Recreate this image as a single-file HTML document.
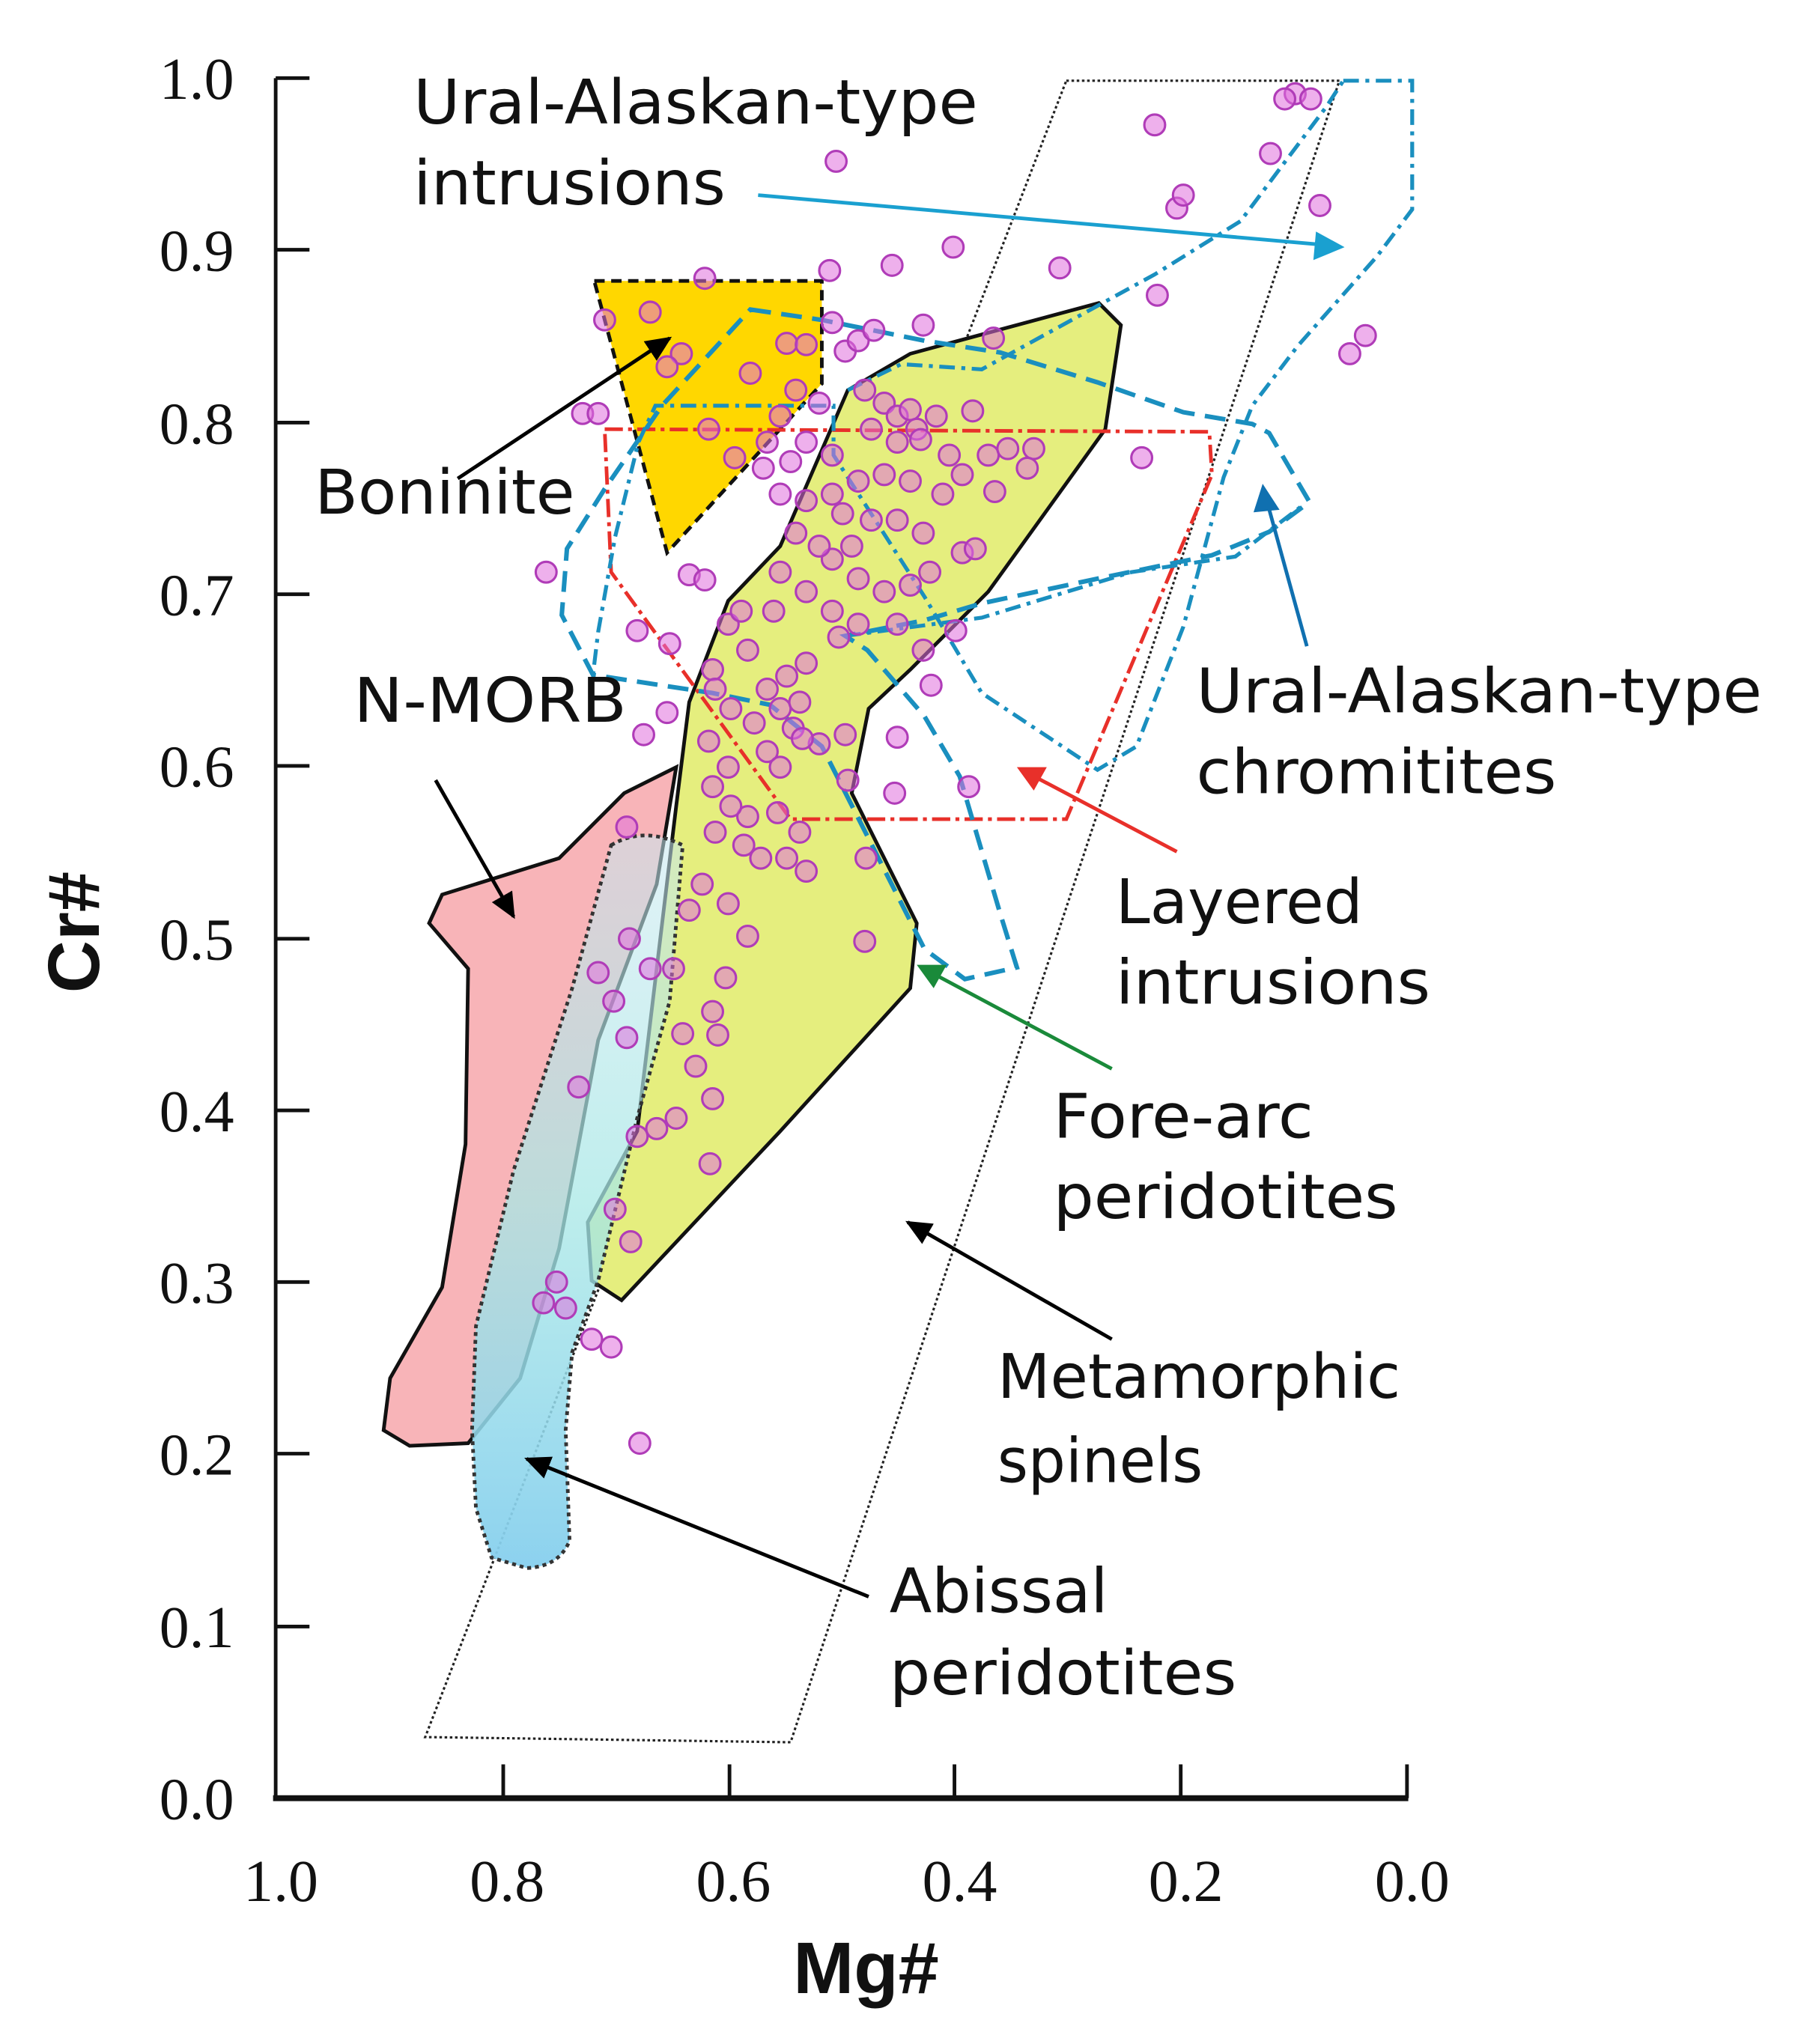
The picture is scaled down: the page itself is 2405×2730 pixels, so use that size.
<!DOCTYPE html>
<html><head><meta charset="utf-8"><style>
html,body{margin:0;padding:0;background:#fff}
svg{display:block}
.t{font-family:"DejaVu Sans","Liberation Sans",sans-serif;font-size:47px;fill:#111}
.n{font-family:"Liberation Serif",serif;font-size:46px;fill:#111}
</style></head><body>
<svg width="2405" height="2730" viewBox="0 0 1385 1572" xmlns="http://www.w3.org/2000/svg">
<defs>
<linearGradient id="ab" x1="0" y1="0" x2="0" y2="1">
<stop offset="0" stop-color="#c8e8f0" stop-opacity="0.55"/>
<stop offset="0.5" stop-color="#a8e8e6" stop-opacity="0.75"/>
<stop offset="1" stop-color="#86cfee" stop-opacity="0.95"/>
</linearGradient>
<marker id="ak" markerWidth="22" markerHeight="22" refX="18" refY="11" orient="auto" markerUnits="userSpaceOnUse" viewBox="0 0 22 22"><path d="M0,2L20,11L0,20z" fill="#000"/></marker>
</defs>
<rect width="1385" height="1572" fill="#fff"/>
<polygon points="820,62 1030,62 608,1340 327,1336" fill="none" stroke="#222" stroke-width="1.8" stroke-dasharray="2,2"/>
<path d="M520,590 L480,610 L430,660 L340,688 L330,710 L360,745 L358,880 L340,990 L300,1060 L295,1100 L315,1112 L360,1110 L400,1060 L430,960 L460,800 L505,680 Z" fill="#f8b4b8" stroke="#111" stroke-width="2.8"/>
<path d="M652,300 L700,272 L845,233 L862,250 L850,330 L760,455 L700,515 L668,545 L655,610 L705,710 L700,760 L600,870 L478,1000 L455,985 L452,940 L490,870 L520,620 L530,540 L560,462 L600,420 Z" fill="#e5ee7e" stroke="#111" stroke-width="2.8"/>
<path d="M470,650 Q495,635 525,650 L515,770 L490,860 L460,985 L440,1040 L435,1100 L438,1185 Q430,1205 405,1206 L378,1198 L366,1160 L363,1100 L366,1020 L395,900 L440,760 Z" fill="url(#ab)" stroke="#333" stroke-width="2.8" stroke-dasharray="3,3"/>
<polygon points="457,216 632,216 632,295 513,425" fill="#ffd700" stroke="#111" stroke-width="2.8" stroke-dasharray="8,5"/>
<polygon points="465,330 930,332 932,365 820,630 608,630 470,440" fill="none" stroke="#e8302a" stroke-width="2.8" stroke-dasharray="14,4,3,4"/>
<path d="M577,238 L632,246 L711,262 L769,271 L844,294 L910,317 L963,326 L976,333 L1007,386 L976,409 L932,427 L844,445 L755,464 L711,477 L650,489 L667,500 L711,551 L738,597 L769,702 L782,744 L742,753 L711,730 L667,643 L632,574 L592,542 L548,533 L456,519 L432,473 L436,422 L465,376 L509,312 Z" fill="none" stroke="#1a8fbf" stroke-width="3.5" stroke-dasharray="16,8"/>
<path d="M1033,62 L1086,62 L1086,161 L1059,197 L998,266 L963,312 L941,367 L910,482 L874,574 L844,592 L755,533 L711,459 L641,350 L641,312 L504,312 L491,340 L473,413 L460,486 L456,519" fill="none" stroke="#1a8fbf" stroke-width="3" stroke-dasharray="12,5,3,5"/>
<path d="M652,300 L693,280 L755,284 L888,211 L954,170 L1020,82 L1033,62" fill="none" stroke="#1a8fbf" stroke-width="3" stroke-dasharray="12,5,3,5"/>
<path d="M650,489 L755,475 L870,440 L950,428 L1000,390" fill="none" stroke="#1a8fbf" stroke-width="3" stroke-dasharray="12,5,3,5"/>
<g fill="#e070dc" fill-opacity="0.55" stroke="#b03cb8" stroke-width="1.8">
<circle cx="643" cy="124" r="8"/><circle cx="888" cy="96" r="8"/><circle cx="996" cy="72" r="8"/><circle cx="1008" cy="76" r="8"/><circle cx="988" cy="76" r="8"/><circle cx="977" cy="118" r="8"/><circle cx="1015" cy="158" r="8"/><circle cx="905" cy="160" r="8"/><circle cx="910" cy="150" r="8"/><circle cx="733" cy="190" r="8"/><circle cx="686" cy="204" r="8"/><circle cx="815" cy="206" r="8"/><circle cx="638" cy="208" r="8"/><circle cx="542" cy="214" r="8"/><circle cx="890" cy="227" r="8"/><circle cx="1050" cy="258" r="8"/><circle cx="1038" cy="272" r="8"/><circle cx="878" cy="352" r="8"/><circle cx="465" cy="246" r="8"/><circle cx="500" cy="240" r="8"/><circle cx="524" cy="272" r="8"/><circle cx="513" cy="282" r="8"/><circle cx="577" cy="287" r="8"/><circle cx="605" cy="264" r="8"/><circle cx="620" cy="265" r="8"/><circle cx="640" cy="248" r="8"/><circle cx="650" cy="270" r="8"/><circle cx="660" cy="262" r="8"/><circle cx="672" cy="254" r="8"/><circle cx="710" cy="250" r="8"/><circle cx="764" cy="260" r="8"/><circle cx="448" cy="318" r="8"/><circle cx="460" cy="318" r="8"/><circle cx="545" cy="330" r="8"/><circle cx="565" cy="352" r="8"/><circle cx="420" cy="440" r="8"/><circle cx="530" cy="442" r="8"/><circle cx="542" cy="446" r="8"/><circle cx="490" cy="485" r="8"/><circle cx="515" cy="495" r="8"/><circle cx="495" cy="565" r="8"/><circle cx="513" cy="548" r="8"/><circle cx="600" cy="320" r="8"/><circle cx="590" cy="340" r="8"/><circle cx="612" cy="300" r="8"/>
<circle cx="665" cy="300" r="8"/><circle cx="680" cy="310" r="8"/><circle cx="690" cy="320" r="8"/><circle cx="700" cy="315" r="8"/><circle cx="705" cy="330" r="8"/><circle cx="690" cy="340" r="8"/><circle cx="720" cy="320" r="8"/><circle cx="748" cy="316" r="8"/><circle cx="760" cy="350" r="8"/><circle cx="775" cy="345" r="8"/><circle cx="795" cy="345" r="8"/><circle cx="790" cy="360" r="8"/><circle cx="740" cy="365" r="8"/><circle cx="725" cy="380" r="8"/><circle cx="700" cy="370" r="8"/><circle cx="680" cy="365" r="8"/><circle cx="660" cy="370" r="8"/><circle cx="640" cy="380" r="8"/><circle cx="620" cy="385" r="8"/><circle cx="648" cy="395" r="8"/><circle cx="670" cy="400" r="8"/><circle cx="690" cy="400" r="8"/><circle cx="710" cy="410" r="8"/><circle cx="740" cy="425" r="8"/><circle cx="750" cy="422" r="8"/><circle cx="715" cy="440" r="8"/><circle cx="700" cy="450" r="8"/><circle cx="680" cy="455" r="8"/><circle cx="660" cy="445" r="8"/><circle cx="640" cy="430" r="8"/><circle cx="630" cy="420" r="8"/><circle cx="612" cy="410" r="8"/><circle cx="600" cy="440" r="8"/><circle cx="620" cy="455" r="8"/><circle cx="640" cy="470" r="8"/><circle cx="660" cy="480" r="8"/><circle cx="645" cy="490" r="8"/><circle cx="620" cy="510" r="8"/><circle cx="605" cy="520" r="8"/><circle cx="590" cy="530" r="8"/><circle cx="600" cy="545" r="8"/><circle cx="615" cy="540" r="8"/><circle cx="600" cy="380" r="8"/><circle cx="587" cy="360" r="8"/><circle cx="620" cy="340" r="8"/><circle cx="608" cy="355" r="8"/><circle cx="630" cy="310" r="8"/><circle cx="640" cy="350" r="8"/><circle cx="670" cy="330" r="8"/><circle cx="730" cy="350" r="8"/><circle cx="765" cy="378" r="8"/><circle cx="708" cy="338" r="8"/><circle cx="655" cy="420" r="8"/><circle cx="595" cy="470" r="8"/><circle cx="575" cy="500" r="8"/><circle cx="610" cy="560" r="8"/><circle cx="630" cy="572" r="8"/><circle cx="580" cy="556" r="8"/><circle cx="590" cy="578" r="8"/><circle cx="600" cy="590" r="8"/><circle cx="617" cy="568" r="8"/><circle cx="598" cy="625" r="8"/><circle cx="615" cy="640" r="8"/><circle cx="575" cy="628" r="8"/><circle cx="650" cy="565" r="8"/><circle cx="652" cy="600" r="8"/><circle cx="690" cy="567" r="8"/><circle cx="688" cy="610" r="8"/><circle cx="745" cy="605" r="8"/><circle cx="735" cy="485" r="8"/><circle cx="716" cy="527" r="8"/><circle cx="690" cy="480" r="8"/><circle cx="710" cy="500" r="8"/><circle cx="666" cy="660" r="8"/><circle cx="665" cy="724" r="8"/><circle cx="560" cy="480" r="8"/><circle cx="570" cy="470" r="8"/>
<circle cx="548" cy="515" r="8"/><circle cx="550" cy="530" r="8"/><circle cx="562" cy="545" r="8"/><circle cx="545" cy="570" r="8"/><circle cx="560" cy="590" r="8"/><circle cx="548" cy="605" r="8"/><circle cx="562" cy="620" r="8"/><circle cx="550" cy="640" r="8"/><circle cx="572" cy="650" r="8"/><circle cx="585" cy="660" r="8"/><circle cx="605" cy="660" r="8"/><circle cx="620" cy="670" r="8"/><circle cx="560" cy="695" r="8"/><circle cx="575" cy="720" r="8"/><circle cx="558" cy="752" r="8"/><circle cx="548" cy="778" r="8"/><circle cx="552" cy="796" r="8"/><circle cx="535" cy="820" r="8"/><circle cx="548" cy="845" r="8"/><circle cx="520" cy="860" r="8"/><circle cx="505" cy="868" r="8"/><circle cx="490" cy="874" r="8"/><circle cx="525" cy="795" r="8"/><circle cx="518" cy="745" r="8"/><circle cx="500" cy="745" r="8"/><circle cx="484" cy="722" r="8"/><circle cx="472" cy="770" r="8"/><circle cx="482" cy="798" r="8"/><circle cx="460" cy="748" r="8"/><circle cx="546" cy="895" r="8"/><circle cx="445" cy="836" r="8"/><circle cx="473" cy="930" r="8"/><circle cx="485" cy="955" r="8"/><circle cx="428" cy="986" r="8"/><circle cx="435" cy="1006" r="8"/><circle cx="418" cy="1002" r="8"/><circle cx="455" cy="1030" r="8"/><circle cx="470" cy="1036" r="8"/><circle cx="492" cy="1110" r="8"/><circle cx="482" cy="636" r="8"/><circle cx="540" cy="680" r="8"/><circle cx="530" cy="700" r="8"/>
</g>
<g stroke="#111" stroke-width="2.8" fill="none">
<line x1="212" y1="60" x2="212" y2="1384"/>
<line x1="210" y1="1383" x2="1083" y2="1383" stroke-width="4.5"/>
<line x1="212" y1="60" x2="238" y2="60"/><line x1="212" y1="192" x2="238" y2="192"/><line x1="212" y1="325" x2="238" y2="325"/><line x1="212" y1="457" x2="238" y2="457"/><line x1="212" y1="589" x2="238" y2="589"/><line x1="212" y1="722" x2="238" y2="722"/><line x1="212" y1="854" x2="238" y2="854"/><line x1="212" y1="986" x2="238" y2="986"/><line x1="212" y1="1118" x2="238" y2="1118"/><line x1="212" y1="1251" x2="238" y2="1251"/>
<line x1="387" y1="1383" x2="387" y2="1357"/><line x1="561" y1="1383" x2="561" y2="1357"/><line x1="734" y1="1383" x2="734" y2="1357"/><line x1="908" y1="1383" x2="908" y2="1357"/><line x1="1082" y1="1383" x2="1082" y2="1357"/>
</g>
<g class="n" text-anchor="end">
<text x="180" y="76">1.0</text><text x="180" y="208">0.9</text><text x="180" y="341">0.8</text><text x="180" y="473">0.7</text><text x="180" y="605">0.6</text><text x="180" y="738">0.5</text><text x="180" y="870">0.4</text><text x="180" y="1002">0.3</text><text x="180" y="1134">0.2</text><text x="180" y="1267">0.1</text><text x="180" y="1399">0.0</text>
</g>
<g class="n" text-anchor="middle">
<text x="216" y="1462">1.0</text><text x="390" y="1462">0.8</text><text x="564" y="1462">0.6</text><text x="738" y="1462">0.4</text><text x="912" y="1462">0.2</text><text x="1086" y="1462">0.0</text>
</g>
<text x="666" y="1533" text-anchor="middle" font-family="Liberation Sans,sans-serif" font-weight="bold" font-size="56" fill="#111">Mg#</text>
<text transform="translate(76,717) rotate(-90)" text-anchor="middle" font-family="Liberation Sans,sans-serif" font-weight="bold" font-size="56" fill="#111">Cr#</text>
<g stroke-width="2.8" fill="none">
<line x1="352" y1="368" x2="515" y2="260" stroke="#000" marker-end="url(#ak)"/>
<line x1="335" y1="600" x2="395" y2="705" stroke="#000" marker-end="url(#ak)"/>
<line x1="855" y1="1030" x2="698" y2="940" stroke="#000" marker-end="url(#ak)"/>
<line x1="668" y1="1228" x2="405" y2="1122" stroke="#000" marker-end="url(#ak)"/>
<line x1="583" y1="150" x2="1015" y2="188" stroke="#1aa0d0"/>
<path d="M1034,190 L1010,200 L1012,178 Z" fill="#1aa0d0"/>
<line x1="1005" y1="497" x2="975" y2="388" stroke="#1070b0"/>
<path d="M971,372 L984,392 L964,394 Z" fill="#1070b0"/>
<line x1="905" y1="655" x2="797" y2="598" stroke="#e8302a"/>
<path d="M782,590 L805,590 L795,608 Z" fill="#e8302a"/>
<line x1="855" y1="822" x2="718" y2="749" stroke="#1a8a3a"/>
<path d="M705,742 L728,742 L718,760 Z" fill="#1a8a3a"/>
</g>
<g class="t">
<text x="318" y="95" textLength="434" lengthAdjust="spacingAndGlyphs">Ural-Alaskan-type</text>
<text x="318" y="157" textLength="240" lengthAdjust="spacingAndGlyphs">intrusions</text>
<text x="242" y="395" textLength="200" lengthAdjust="spacingAndGlyphs">Boninite</text>
<text x="272" y="555" textLength="210" lengthAdjust="spacingAndGlyphs">N-MORB</text>
<text x="920" y="548" textLength="435" lengthAdjust="spacingAndGlyphs">Ural-Alaskan-type</text>
<text x="920" y="610" textLength="277" lengthAdjust="spacingAndGlyphs">chromitites</text>
<text x="858" y="710" textLength="190" lengthAdjust="spacingAndGlyphs">Layered</text>
<text x="858" y="772" textLength="242" lengthAdjust="spacingAndGlyphs">intrusions</text>
<text x="810" y="875" textLength="200" lengthAdjust="spacingAndGlyphs">Fore-arc</text>
<text x="810" y="937" textLength="265" lengthAdjust="spacingAndGlyphs">peridotites</text>
<text x="767" y="1075" textLength="310" lengthAdjust="spacingAndGlyphs">Metamorphic</text>
<text x="767" y="1140" textLength="158" lengthAdjust="spacingAndGlyphs">spinels</text>
<text x="684" y="1240" textLength="168" lengthAdjust="spacingAndGlyphs">Abissal</text>
<text x="684" y="1303" textLength="267" lengthAdjust="spacingAndGlyphs">peridotites</text>
</g>
</svg>
</body></html>
